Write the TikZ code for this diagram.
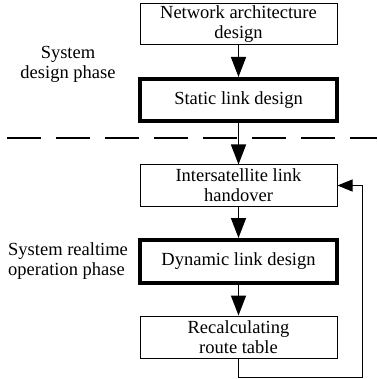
\documentclass[tikz,border=0pt]{standalone}
\usepackage{fontspec}
\setmainfont{Liberation Serif}
\usetikzlibrary{arrows.meta}

\tikzset{
  boite/.style={draw, line width=1pt, minimum width=197pt, minimum height=41pt,
    align=center, inner sep=1pt, font=\fontsize{18.5}{20}\selectfont},
  boitegrasse/.style={boite, line width=4pt},
  fleche/.style={line width=1.6pt, -{Triangle[length=20pt,width=15pt]}},
  retour/.style={line width=1pt, -{Triangle[length=15pt,width=12pt]}},
  etiquette/.style={font=\fontsize{18.5}{20}\selectfont, inner sep=0pt}
}

\begin{document}
\begin{tikzpicture}[x=1pt,y=-1pt]
  \useasboundingbox (0,0) rectangle (377,379);

  % Dessiner les boites
  \node[boite] (net) at (238.5,24.5) {Network architecture\\design};
  \node[boitegrasse, minimum height=42pt] (stat) at (238.5,100) {Static link design};
  \node[boite] (hand) at (238.5,185.5) {Intersatellite link\\handover};
  \node[boitegrasse, minimum height=43pt] (dyn) at (238.5,261.5) {Dynamic link design};
  \node[boite, minimum height=42pt] (recalc) at (238.5,337) {Recalculating\\route table};

  % Ajouter les phases
  \node[etiquette, align=center] (phase1) at (68,64) {System\\design phase};
  \node[etiquette, align=left, anchor=west] (phase2) at (8,261) {System realtime\\operation phase};

  % Ligne de separation
  \draw[line width=1.2pt, dash pattern=on 34pt off 15pt] (7,138) -- (377,138);

  % Ajouter les fleches
  \foreach \a/\b in {net/stat, stat/hand, hand/dyn, dyn/recalc}
    \draw[fleche] (\a.south) -- (\b.north);

  % Boucle de retour
  \coordinate (coin) at (362,185.5);
  \draw[retour] (recalc.south) -- ++(0,19) -| (coin) -- (hand.east);
\end{tikzpicture}
\end{document}
